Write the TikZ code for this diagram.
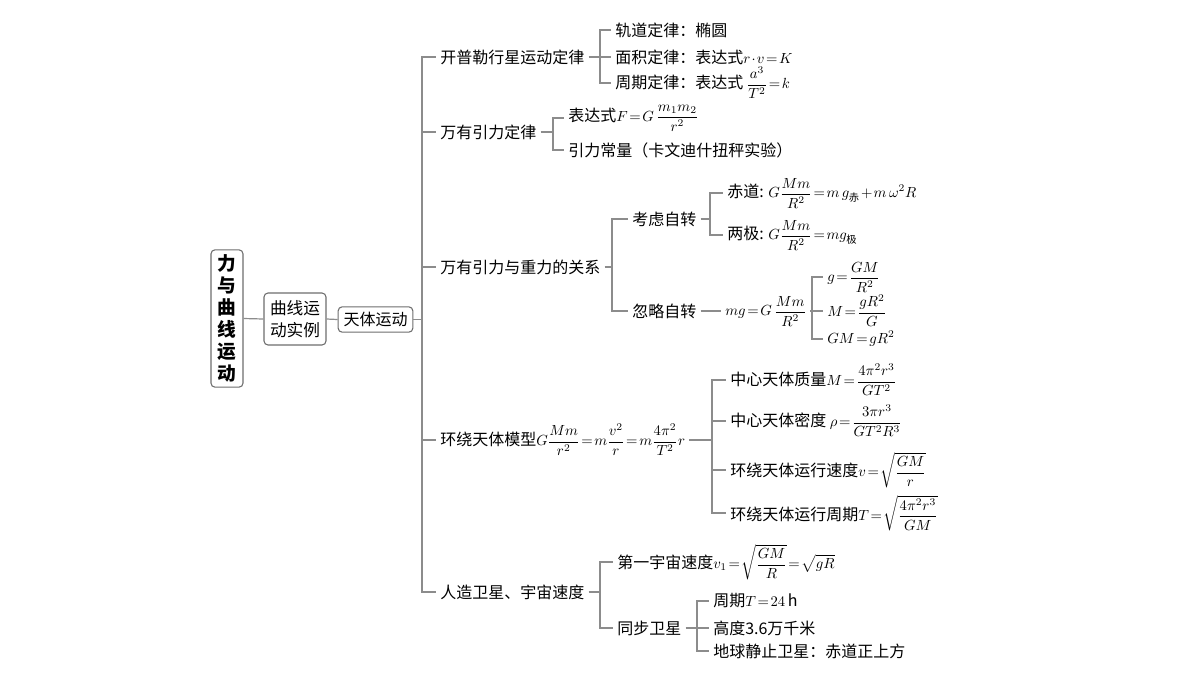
\RequirePackage{fix-cm}
\documentclass[tikz,border=0pt]{standalone}
\usepackage{amsmath}
\usepackage[no-math]{fontspec}
\setmainfont{Noto Sans CJK SC}
\definecolor{linegray}{HTML}{8C8C8C}
\definecolor{boxgray}{HTML}{6E6E6E}
\newcommand\mth[1]{{\fontsize{11pt}{12pt}\selectfont$\thickmuskip=2mu plus 1mu\medmuskip=1.5mu\displaystyle #1$}}
\begin{document}
\begin{tikzpicture}[x=0.75pt,y=-0.75pt,
  conn/.style={draw=linegray,line width=0.9pt},
  lbl/.style={anchor=west,inner xsep=3pt,inner ysep=0pt,font=\fontsize{12pt}{14pt}\selectfont},
  boxn/.style={draw=boxgray,rounded corners=3pt,line width=0.8pt,fill=white,align=center,inner sep=0pt}]
\fill[white] (0,0) rectangle (1200,676);
\useasboundingbox (0,0) rectangle (1200,676);

% boxes
\node[boxn,minimum width=24pt,minimum height=103pt,font=\fontsize{14pt}{16.5pt}\selectfont\bfseries] (root) at (227,318.5) {力\\与\\曲\\线\\运\\动};
\node[boxn,minimum width=46.5pt,minimum height=39pt,font=\fontsize{12.5pt}{17pt}\selectfont] (inst) at (295,319) {曲线运\\动实例};
\node[boxn,minimum width=56pt,minimum height=19pt,font=\fontsize{12pt}{14pt}\selectfont] (tian) at (375.5,319.5) {天体运动};
\coordinate (trunk) at (422,319.5);
\draw[conn] (root.east) -- (inst.west);
\draw[conn] (inst.east) -- (tian.west);
\draw[conn] (tian.east) -- (trunk);

% branches
\node[lbl] (kep) at (436,57) {开普勒行星运动定律};
\node[lbl] (grav) at (436,132) {万有引力定律};
\node[lbl] (rel) at (436,267) {万有引力与重力的关系};
\node[lbl] (orb) at (436,440) {环绕天体模型\mth{G\frac{Mm}{r^2}=m\frac{v^2}{r}=m\frac{4\pi^2}{T^2}r}};
\node[lbl] (sat) at (436,592) {人造卫星、宇宙速度};
\foreach \b in {kep,grav,rel,orb,sat} \draw[conn] (trunk) |- (\b.west);

% Kepler
\node[lbl] (k1) at (611,30) {轨道定律：椭圆};
\node[lbl] (k2) at (611,57) {面积定律：表达式\mth{r\cdot v=K}};
\node[lbl] (k3) at (611,83) {周期定律：表达式 \mth{\frac{a^3}{T^2}=k}};
\coordinate (ks) at (600,57);
\draw[conn] (kep.east) -- (ks);
\foreach \c in {k1,k2,k3} \draw[conn] (ks) |- (\c.west);

% gravitation law
\node[lbl] (g1) at (564,118) {表达式\mth{F=G\,\frac{m_1m_2}{r^2}}};
\node[lbl] (g2) at (564,150) {引力常量（卡文迪什扭秤实验）};
\coordinate (gs) at (553,132);
\draw[conn] (grav.east) -- (gs);
\foreach \c in {g1,g2} \draw[conn] (gs) |- (\c.west);

% gravity vs weight
\node[lbl] (r1) at (628,219) {考虑自转};
\node[lbl] (r2) at (628,311) {忽略自转};
\coordinate (rs) at (612,267);
\draw[conn] (rel.east) -- (rs);
\foreach \c in {r1,r2} \draw[conn] (rs) |- (\c.west);

\node[lbl] (r1a) at (723,193) {赤道: \mth{G\frac{Mm}{R^2}=m\,g_{\text{赤}}+m\,\omega^2R}};
\node[lbl] (r1b) at (723,235) {两极: \mth{G\frac{Mm}{R^2}=mg_{\text{极}}}};
\coordinate (r1s) at (710,219);
\draw[conn] (r1.east) -- (r1s);
\foreach \c in {r1a,r1b} \draw[conn] (r1s) |- (\c.west);

\node[lbl] (r2e) at (721,311) {\mth{mg=G\,\frac{Mm}{R^2}}};
\draw[conn] (r2.east) -- (r2e.west);
\node[lbl] (r2a) at (823,277) {\mth{g=\frac{GM}{R^2}}};
\node[lbl] (r2b) at (823,311) {\mth{M=\frac{gR^2}{G}}};
\node[lbl] (r2c) at (823,339) {\mth{GM=gR^2}};
\coordinate (r2s) at (812,311);
\draw[conn] (r2e.east) -- (r2s);
\foreach \c in {r2a,r2b,r2c} \draw[conn] (r2s) |- (\c.west);

% orbit model
\node[lbl] (o1) at (726,380) {中心天体质量\mth{M=\frac{4\pi^2r^3}{GT^2}}};
\node[lbl] (o2) at (726,421) {中心天体密度 \mth{\rho=\frac{3\pi r^3}{GT^2R^3}}};
\node[lbl] (o3) at (726,470) {环绕天体运行速度\mth{v=\sqrt{\frac{GM}{r}}}};
\node[lbl] (o4) at (726,513) {环绕天体运行周期\mth{T=\sqrt{\frac{4\pi^2r^3}{GM}}}};
\coordinate (os) at (712,440);
\draw[conn] (orb.east) -- (os);
\foreach \c in {o1,o2,o3,o4} \draw[conn] (os) |- (\c.west);

% satellites
\node[lbl] (s1) at (613,562) {第一宇宙速度\mth{v_1=\sqrt{\frac{GM}{R}}=\sqrt{gR}}};
\node[lbl] (s2) at (613,628) {同步卫星};
\coordinate (ss) at (600,592);
\draw[conn] (sat.east) -- (ss);
\foreach \c in {s1,s2} \draw[conn] (ss) |- (\c.west);

\node[lbl] (t1) at (709,601) {周期\mth{T=24}\,h};
\node[lbl] (t2) at (709,628) {高度3.6万千米};
\node[lbl] (t3) at (709,651) {地球静止卫星：赤道正上方};
\coordinate (ts) at (697,628);
\draw[conn] (s2.east) -- (ts);
\foreach \c in {t1,t2,t3} \draw[conn] (ts) |- (\c.west);
\end{tikzpicture}
\end{document}
